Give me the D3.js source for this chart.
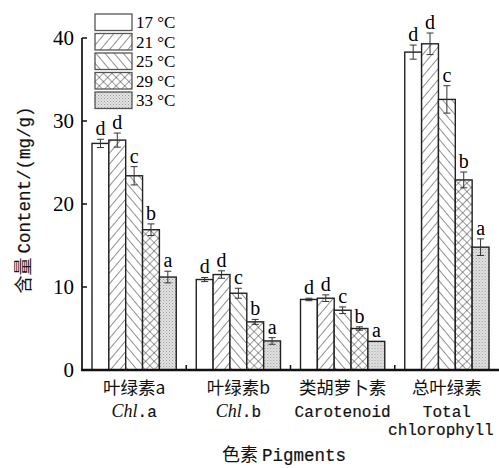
<!DOCTYPE html>
<html>
<head>
<meta charset="utf-8">
<script src="https://cdn.jsdelivr.net/npm/d3@7"></script>
<style>
  body { margin: 0; background: #fff; }
  svg { display: block; }
  .mono { stroke: #111; stroke-width: 0.2px; }
</style>
</head>
<body>
<svg width="499" height="468"></svg>
<script>
// pigment groups and temperature series
const groups = ['chla', 'chlb', 'car', 'total'];
const temps = ['17 °C', '21 °C', '25 °C', '29 °C', '33 °C'];

const values = {
  chla:  [27.3, 27.7, 23.4, 16.9, 11.2],
  chlb:  [10.9, 11.5, 9.25, 5.8, 3.5],
  car:   [8.5, 8.65, 7.2, 5.0, 3.45],
  total: [38.3, 39.3, 32.6, 22.9, 14.8]
};
const errors = {
  chla:  [0.5, 0.85, 1.1, 0.7, 0.7],
  chlb:  [0.25, 0.45, 0.6, 0.3, 0.4],
  car:   [0.15, 0.4, 0.4, 0.2, 0],
  total: [0.85, 1.3, 1.65, 0.95, 1.0]
};
const letters = ['d', 'd', 'c', 'b', 'a'];
const yTicks = [0, 10, 20, 30, 40];

(function () {
const svg = d3.select('svg');
const serif = '"Liberation Serif", "Times New Roman", serif';
const cjk = '"Noto Sans CJK SC", sans-serif';
const mono = '"Liberation Mono", monospace';

const mLeft = 82, mRight = 499, mTop = 38, mBottom = 370;

const x0 = d3.scaleBand().domain(groups).range([mLeft, mRight]).padding(0);
const x1 = d3.scaleBand().domain(d3.range(5)).range([10, x0.bandwidth() - 10]).padding(0);
const y = d3.scaleLinear().domain([0, 40]).range([mBottom, mTop]);

// fill patterns
const defs = svg.append('defs');
const hatch = (id, angle, size) => {
  const p = defs.append('pattern')
    .attr('id', id)
    .attr('patternUnits', 'userSpaceOnUse')
    .attr('width', size).attr('height', size)
    .attr('patternTransform', `rotate(${angle})`);
  p.append('rect').attr('width', size).attr('height', size).attr('fill', '#fff');
  p.append('line').attr('x1', 0).attr('y1', 0).attr('x2', 0).attr('y2', size)
    .attr('stroke', '#222').attr('stroke-width', 1);
  return p;
};
hatch('p21', 40, 7);
hatch('p25', -40, 7);
const px = defs.append('pattern')
  .attr('id', 'p29')
  .attr('patternUnits', 'userSpaceOnUse')
  .attr('width', 6).attr('height', 6)
  .attr('patternTransform', 'rotate(45)');
px.append('rect').attr('width', 6).attr('height', 6).attr('fill', '#fff');
px.append('line').attr('x1', 0).attr('y1', 0).attr('x2', 0).attr('y2', 6)
  .attr('stroke', '#222').attr('stroke-width', 0.9);
px.append('line').attr('x1', 0).attr('y1', 0).attr('x2', 6).attr('y2', 0)
  .attr('stroke', '#222').attr('stroke-width', 0.9);
const pd = defs.append('pattern')
  .attr('id', 'p33')
  .attr('patternUnits', 'userSpaceOnUse')
  .attr('width', 3).attr('height', 3);
pd.append('rect').attr('width', 3).attr('height', 3).attr('fill', '#e4e4e4');
pd.append('rect').attr('x', 0).attr('y', 0).attr('width', 1).attr('height', 1).attr('fill', '#999');
pd.append('rect').attr('x', 1.5).attr('y', 1.5).attr('width', 1).attr('height', 1).attr('fill', '#aaa');

const fills = ['#fff', 'url(#p21)', 'url(#p25)', 'url(#p29)', 'url(#p33)'];

// bars
const gG = svg.append('g').selectAll('g')
  .data(groups)
  .join('g')
    .attr('transform', g => `translate(${x0(g)},0)`);

const bars = gG.selectAll('g.bar')
  .data(g => values[g].map((v, i) => ({ v, i, e: errors[g][i] })))
  .join('g')
    .attr('class', 'bar');

bars.append('rect')
  .attr('x', d => x1(d.i))
  .attr('y', d => y(d.v))
  .attr('width', x1.bandwidth())
  .attr('height', d => y(0) - y(d.v))
  .attr('fill', d => fills[d.i])
  .attr('stroke', '#222')
  .attr('stroke-width', 1.4);

// error bars
const eb = bars.filter(d => d.e > 0).append('g')
  .attr('stroke', '#333').attr('stroke-width', 1);
const cx = d => x1(d.i) + x1.bandwidth() / 2;
eb.append('line')
  .attr('x1', cx).attr('x2', cx)
  .attr('y1', d => y(d.v + d.e))
  .attr('y2', d => y(d.v - d.e));
eb.append('line')
  .attr('x1', d => cx(d) - 3.5).attr('x2', d => cx(d) + 3.5)
  .attr('y1', d => y(d.v + d.e)).attr('y2', d => y(d.v + d.e));
eb.append('line')
  .attr('x1', d => cx(d) - 3.5).attr('x2', d => cx(d) + 3.5)
  .attr('y1', d => y(d.v - d.e)).attr('y2', d => y(d.v - d.e));

// significance letters
bars.append('text')
  .attr('x', cx)
  .attr('y', d => y(d.v + d.e) - 4)
  .attr('text-anchor', 'middle')
  .attr('font-family', serif)
  .attr('font-size', 20)
  .text(d => letters[d.i]);

// axes
const axes = svg.append('g').attr('stroke', '#111');
axes.append('line')
  .attr('x1', mLeft).attr('x2', mLeft)
  .attr('y1', y(40)).attr('y2', y(0))
  .attr('stroke-width', 1.7);
axes.append('line')
  .attr('x1', mLeft - 1).attr('x2', mRight)
  .attr('y1', y(0)).attr('y2', y(0))
  .attr('stroke-width', 2.4);
axes.selectAll('line.yt')
  .data(yTicks)
  .join('line')
    .attr('class', 'yt')
    .attr('x1', mLeft).attr('x2', mLeft + 5)
    .attr('y1', d => y(d)).attr('y2', d => y(d))
    .attr('stroke-width', 1.5);
axes.selectAll('line.xt')
  .data(groups.slice(1))
  .join('line')
    .attr('class', 'xt')
    .attr('x1', g => x0(g)).attr('x2', g => x0(g))
    .attr('y1', y(0)).attr('y2', y(0) - 5)
    .attr('stroke-width', 1.5);

svg.append('g').selectAll('text')
  .data(yTicks)
  .join('text')
    .attr('x', 74)
    .attr('y', d => y(d))
    .attr('dy', '0.35em')
    .attr('text-anchor', 'end')
    .attr('font-family', serif)
    .attr('font-size', 21)
    .text(d => d);

// category labels
const catCn = { chla: '叶绿素a', chlb: '叶绿素b', car: '类胡萝卜素', total: '总叶绿素' };
const lab = svg.append('g').attr('fill', '#111');
groups.forEach(g => {
  const gx = x0(g) + x0.bandwidth() / 2;
  lab.append('text')
    .attr('x', gx).attr('y', 394)
    .attr('text-anchor', 'middle')
    .attr('font-family', cjk).attr('font-size', 17.5)
    .text(catCn[g]);
  if (g === 'chla' || g === 'chlb') {
    const t = lab.append('text')
      .attr('x', gx).attr('y', 417)
      .attr('text-anchor', 'middle')
      .attr('font-size', 18);
    t.append('tspan').attr('font-family', serif).attr('font-style', 'italic').text('Chl');
    t.append('tspan').attr('class', 'mono').attr('font-family', mono).attr('font-size', 16).text(g === 'chla' ? '.a' : '.b');
  } else if (g === 'car') {
    lab.append('text')
      .attr('class', 'mono')
      .attr('x', gx).attr('y', 417)
      .attr('text-anchor', 'middle')
      .attr('font-family', mono).attr('font-size', 16)
      .text('Carotenoid');
  } else {
    lab.append('text')
      .attr('class', 'mono')
      .attr('x', gx).attr('y', 417)
      .attr('text-anchor', 'middle')
      .attr('font-family', mono).attr('font-size', 16)
      .text('Total');
    lab.append('text')
      .attr('class', 'mono')
      .attr('x', gx - 6).attr('y', 435)
      .attr('text-anchor', 'middle')
      .attr('font-family', mono).attr('font-size', 16)
      .text('chlorophyll');
  }
});

// axis titles
const xt = svg.append('text')
  .attr('x', 284).attr('y', 461)
  .attr('text-anchor', 'middle')
  .attr('fill', '#111');
xt.append('tspan').attr('font-family', cjk).attr('font-size', 18).text('色素 ');
xt.append('tspan').attr('class', 'mono').attr('font-family', mono).attr('font-size', 17.5).text('Pigments');

const yt = svg.append('text')
  .attr('transform', 'translate(30,200) rotate(-90)')
  .attr('text-anchor', 'middle')
  .attr('fill', '#111');
yt.append('tspan').attr('font-family', cjk).attr('font-size', 18).text('含量 ');
yt.append('tspan').attr('class', 'mono').attr('font-family', mono).attr('font-size', 17.5).text('Content/(mg/g)');

// legend
const leg = svg.append('g').selectAll('g')
  .data(temps)
  .join('g')
    .attr('transform', (d, i) => `translate(95,${14 + i * 19.5})`);
leg.append('rect')
  .attr('width', 37).attr('height', 16.5)
  .attr('fill', (d, i) => fills[i])
  .attr('stroke', '#555').attr('stroke-width', 1.3);
leg.append('text')
  .attr('x', 41).attr('y', 8.5)
  .attr('dy', '0.35em')
  .attr('font-family', serif).attr('font-size', 17)
  .text(d => d);
})();
</script>
</body>
</html>
